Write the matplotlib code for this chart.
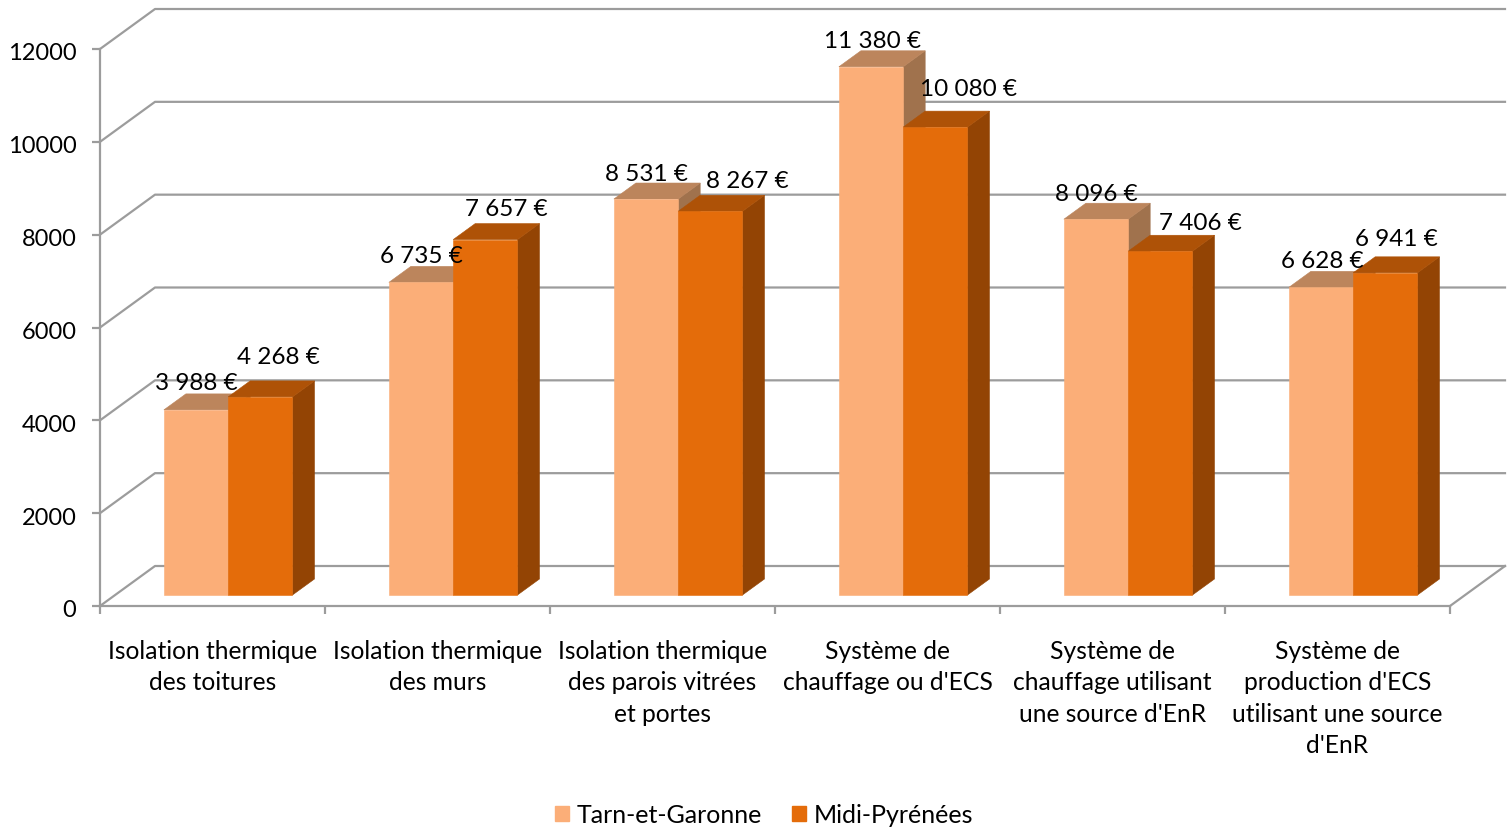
import matplotlib
matplotlib.use('Agg')
import matplotlib.pyplot as plt
from matplotlib.patches import Polygon, Patch
from matplotlib.transforms import ScaledTranslation

plt.rcParams['font.family'] = ['Lato', 'DejaVu Sans']

# data
categories = ["Isolation thermique\ndes toitures",
              "Isolation thermique\ndes murs",
              "Isolation thermique\ndes parois vitrées\net portes",
              "Système de\nchauffage ou d'ECS",
              "Système de\nchauffage utilisant\nune source d'EnR",
              "Système de\nproduction d'ECS\nutilisant une source\nd'EnR"]
tarn = [3988, 6735, 8531, 11380, 8096, 6628]
midi = [4268, 7657, 8267, 10080, 7406, 6941]
y_ticks = [0, 2000, 4000, 6000, 8000, 10000, 12000]
series_names = ["Tarn-et-Garonne", "Midi-Pyrénées"]

# label nudges in pixels, the labels were moved by hand in the original
tarn_nudge = [(0, 27), (0, 27), (0, 26), (1, 26), (0, 26), (1, 27)]
midi_nudge = [(18, 40), (21, 31), (37, 31), (33, 39), (40, 29), (11, 34)]

grey = '#9C9C9C'
light = ['#FBAE78', '#BC855C', '#A0724D']
dark = ['#E46C0A', '#AE5207', '#934404']

W, H = 1507, 837
fig = plt.figure(figsize=(W / 100, H / 100), dpi=100)
ax = fig.add_axes([100 / W, 1 - 607 / H, 1350 / W, 557 / H])
ax.set_xlim(0, 6)
ax.set_ylim(0, 12000)

# oblique depth of the fake 3d box, in data units
depth_x = 55 / 225
depth_y = 40 * 12000 / 557
bar_w = 64.3 / 225
gap = 0.2167


def shift(x, y, d):
    return (x + depth_x * d, y + depth_y * d)


# walls
for v in y_ticks:
    a = shift(0, v, 1)
    b = shift(6, v, 1)
    ax.plot([0, a[0], b[0]], [v, a[1], b[1]], color=grey, lw=1.6, clip_on=False, zorder=1)
ax.plot([6, shift(6, 0, 1)[0]], [0, shift(6, 0, 1)[1]], color=grey, lw=1.6, clip_on=False, zorder=1)


def box(x0, v, cols):
    d0, d1 = 0.275, 0.675
    x1 = x0 + bar_w
    front = [shift(x0, 0, d0), shift(x1, 0, d0), shift(x1, v, d0), shift(x0, v, d0)]
    top = [shift(x0, v, d0), shift(x1, v, d0), shift(x1, v, d1), shift(x0, v, d1)]
    side = [shift(x1, 0, d0), shift(x1, 0, d1), shift(x1, v, d1), shift(x1, v, d0)]
    for pts, c in zip((side, top, front), (cols[2], cols[1], cols[0])):
        ax.add_patch(Polygon(pts, closed=True, fc=c, ec=c, lw=0.4, clip_on=False, zorder=3))


for i in range(len(categories)):
    x0 = i + gap
    box(x0, tarn[i], light)
    box(x0 + bar_w, midi[i], dark)

# labels
for i in range(len(categories)):
    x0 = i + gap
    for v, nudge, xx in ((tarn[i], tarn_nudge[i], x0), (midi[i], midi_nudge[i], x0 + bar_w)):
        txt = f"{v:,} €".replace(",", " ")
        pos = shift(xx + bar_w / 2, v, 0.275)
        ax.annotate(txt, pos, xytext=nudge, textcoords='offset pixels', ha='center', va='center',
                    fontsize=17.5, color='black', annotation_clip=False, zorder=5)

# axes
for s in ('top', 'right'):
    ax.spines[s].set_visible(False)
for s in ('left', 'bottom'):
    ax.spines[s].set_color(grey)
    ax.spines[s].set_linewidth(1.6)
ax.patch.set_alpha(0)
ax.set_yticks(y_ticks)
ax.set_yticklabels([str(v) for v in y_ticks], fontsize=17)
ax.tick_params(axis='y', length=6, width=1.6, color=grey, pad=11)
down = ScaledTranslation(0, -2 / 100, fig.dpi_scale_trans)
for lab in ax.get_yticklabels():
    lab.set_transform(lab.get_transform() + down)
ax.set_xticks(range(7))
ax.set_xticklabels([])
ax.tick_params(axis='x', which='major', length=6, width=1.6, color=grey)
ax.set_xticks([i + 0.5 for i in range(6)], minor=True)
ax.set_xticklabels(categories, minor=True, fontsize=17.7, linespacing=1.45, va='top')
ax.tick_params(axis='x', which='minor', length=0, pad=23.5)

handles = [Patch(fc=light[0], ec=light[0]), Patch(fc=dark[0], ec=dark[0])]
fig.legend(handles, series_names, loc='center', bbox_to_anchor=(764 / W, 1 - 816 / H), ncol=2,
           frameon=False, fontsize=18, handlelength=0.58, handleheight=0.58, handletextpad=0.3,
           columnspacing=1.2)

fig.savefig('out.png', dpi=100)
